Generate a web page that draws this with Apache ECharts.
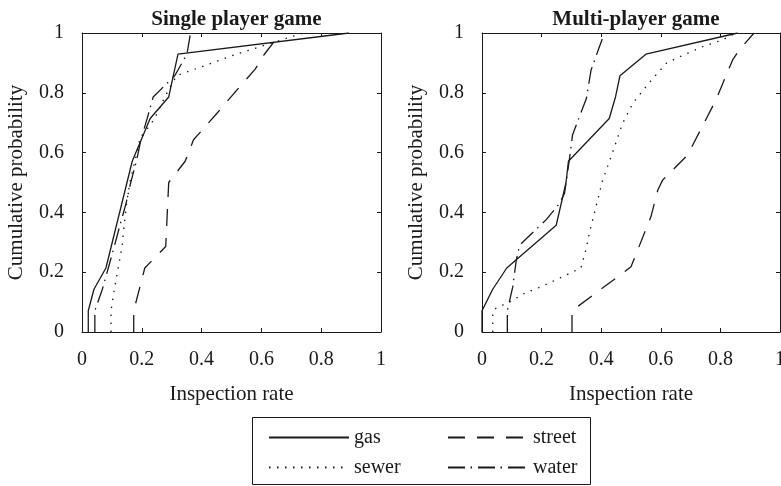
<!DOCTYPE html>
<html>
<head>
<meta charset="utf-8">
<script src="https://cdn.jsdelivr.net/npm/echarts@6/dist/echarts.min.js"></script>
<style>
html,body{margin:0;padding:0;background:#fff;}
#chart{width:781px;height:486px;}
</style>
</head>
<body>
<div id="chart"></div>
<script>
// ---- data: [inspection rate, cumulative probability] ----
const seriesNames = ['gas', 'sewer', 'street', 'water'];
const panelTitles = ['Single player game', 'Multi-player game'];
const xTicks = [0, 0.2, 0.4, 0.6, 0.8, 1];

const singleGas = [[0.021,0],[0.021,0.071],[0.04,0.143],[0.08,0.214],[0.168,0.571],[0.228,0.714],[0.29,0.786],[0.321,0.929],[0.893,1]];
const singleSewer = [[0.097,0],[0.097,0.07],[0.108,0.143],[0.121,0.214],[0.134,0.286],[0.141,0.357],[0.149,0.429],[0.16,0.5],[0.177,0.571],[0.193,0.643],[0.243,0.714],[0.277,0.786],[0.316,0.857],[0.516,0.929],[0.74,1]];
const singleStreet = [[0.173,0],[0.173,0.071],[0.21,0.214],[0.28,0.286],[0.29,0.5],[0.345,0.571],[0.373,0.643],[0.45,0.73],[0.51,0.8],[0.58,0.88],[0.61,0.929],[0.665,1]];
const singleWater = [[0.043,0],[0.043,0.071],[0.068,0.143],[0.088,0.214],[0.108,0.286],[0.127,0.357],[0.147,0.429],[0.163,0.5],[0.182,0.571],[0.197,0.643],[0.218,0.714],[0.238,0.786],[0.31,0.857],[0.351,0.929],[0.363,1]];

const multiGas = [[0,0],[0,0.071],[0.036,0.143],[0.083,0.214],[0.249,0.357],[0.282,0.5],[0.29,0.571],[0.427,0.714],[0.448,0.786],[0.463,0.857],[0.55,0.929],[0.858,1]];
const multiSewer = [[0.036,0],[0.036,0.068],[0.05,0.083],[0.085,0.096],[0.14,0.128],[0.2,0.152],[0.26,0.18],[0.332,0.214],[0.35,0.28],[0.36,0.33],[0.388,0.441],[0.405,0.508],[0.433,0.586],[0.472,0.698],[0.506,0.765],[0.55,0.82],[0.584,0.86],[0.62,0.9],[0.673,0.925],[0.74,0.954],[0.807,0.977],[0.852,1]];
const multiStreet = [[0.302,0],[0.302,0.071],[0.5,0.218],[0.567,0.386],[0.59,0.475],[0.606,0.508],[0.69,0.592],[0.785,0.776],[0.841,0.91],[0.863,0.943],[0.913,1]];
const multiWater = [[0.085,0],[0.085,0.071],[0.103,0.15],[0.115,0.24],[0.126,0.29],[0.215,0.375],[0.26,0.43],[0.277,0.464],[0.293,0.575],[0.304,0.66],[0.35,0.78],[0.366,0.876],[0.394,0.954],[0.411,1]];

// ---- styling ----
const INK = '#1a1a1a';
const FONT = '"Liberation Serif", "Times New Roman", serif';
const dashStyles = {
  gas: 'solid',
  sewer: [1.5, 6.5],
  street: [17, 12],
  water: [17, 5.5, 1.5, 6]
};

const panelData = [
  {gas: singleGas, sewer: singleSewer, street: singleStreet, water: singleWater},
  {gas: multiGas, sewer: multiSewer, street: multiStreet, water: multiWater}
];

const grids = [
  {left: 82, top: 33, width: 299, height: 299, outerBoundsMode: 'none'},
  {left: 482, top: 33, width: 298, height: 299, outerBoundsMode: 'none'}
];

const xAxes = [], yAxes = [], series = [], titles = [];
grids.forEach((g, gi) => {
  const common = {
    type: 'value', gridIndex: gi, min: 0, max: 1, interval: 0.2,
    axisLine: {show: true, onZero: false, lineStyle: {color: INK, width: 1}},
    axisTick: {show: true, inside: true, length: 4, lineStyle: {color: INK, width: 1}},
    splitLine: {show: false},
    axisLabel: {show: true, color: INK, fontFamily: FONT, fontSize: 20, margin: 18}
  };
  xAxes.push(Object.assign({}, common, {
    position: 'bottom',
    customValues: xTicks,
    name: 'Inspection rate', nameLocation: 'middle', nameGap: 52,
    nameTextStyle: {color: INK, fontFamily: FONT, fontSize: 21}
  }));
  xAxes.push(Object.assign({}, common, {position: 'top', axisLabel: {show: false}}));
  yAxes.push(Object.assign({}, common, {
    position: 'left',
    name: 'Cumulative probability', nameLocation: 'middle', nameGap: 55, nameRotate: 90,
    nameTextStyle: {color: INK, fontFamily: FONT, fontSize: 21}
  }));
  yAxes.push(Object.assign({}, common, {position: 'right', axisLabel: {show: false}}));

  seriesNames.forEach(name => {
    series.push({
      type: 'line', name: name,
      xAxisIndex: gi * 2, yAxisIndex: gi * 2,
      data: panelData[gi][name],
      symbol: 'none', silent: true,
      lineStyle: {color: INK, width: 1.3, type: dashStyles[name]},
      itemStyle: {color: INK}
    });
  });

  titles.push({
    text: panelTitles[gi],
    left: g.left + g.width / 2, top: 4, textAlign: 'center',
    textStyle: {color: INK, fontFamily: FONT, fontSize: 21, fontWeight: 'bold'}
  });
});

const legendCommon = {
  orient: 'vertical', top: 427, padding: 0, itemWidth: 80, itemHeight: 14, itemGap: 9,
  textStyle: {color: INK, fontFamily: FONT, fontSize: 20, lineHeight: 21},
  itemStyle: {opacity: 0},
  selectedMode: false
};

const chart = echarts.init(document.getElementById('chart'), null, {renderer: 'canvas'});
chart.setOption({
  animation: false,
  backgroundColor: '#fff',
  title: titles,
  grid: grids,
  xAxis: xAxes,
  yAxis: yAxes,
  legend: [
    Object.assign({}, legendCommon, {left: 268, data: ['gas', 'sewer']}),
    Object.assign({}, legendCommon, {left: 447, data: ['street', 'water']})
  ],
  graphic: [{
    type: 'rect', shape: {x: 252.5, y: 417.5, width: 338, height: 67},
    style: {fill: 'none', stroke: INK, lineWidth: 1}, silent: true
  }],
  series: series
});
</script>
</body>
</html>
